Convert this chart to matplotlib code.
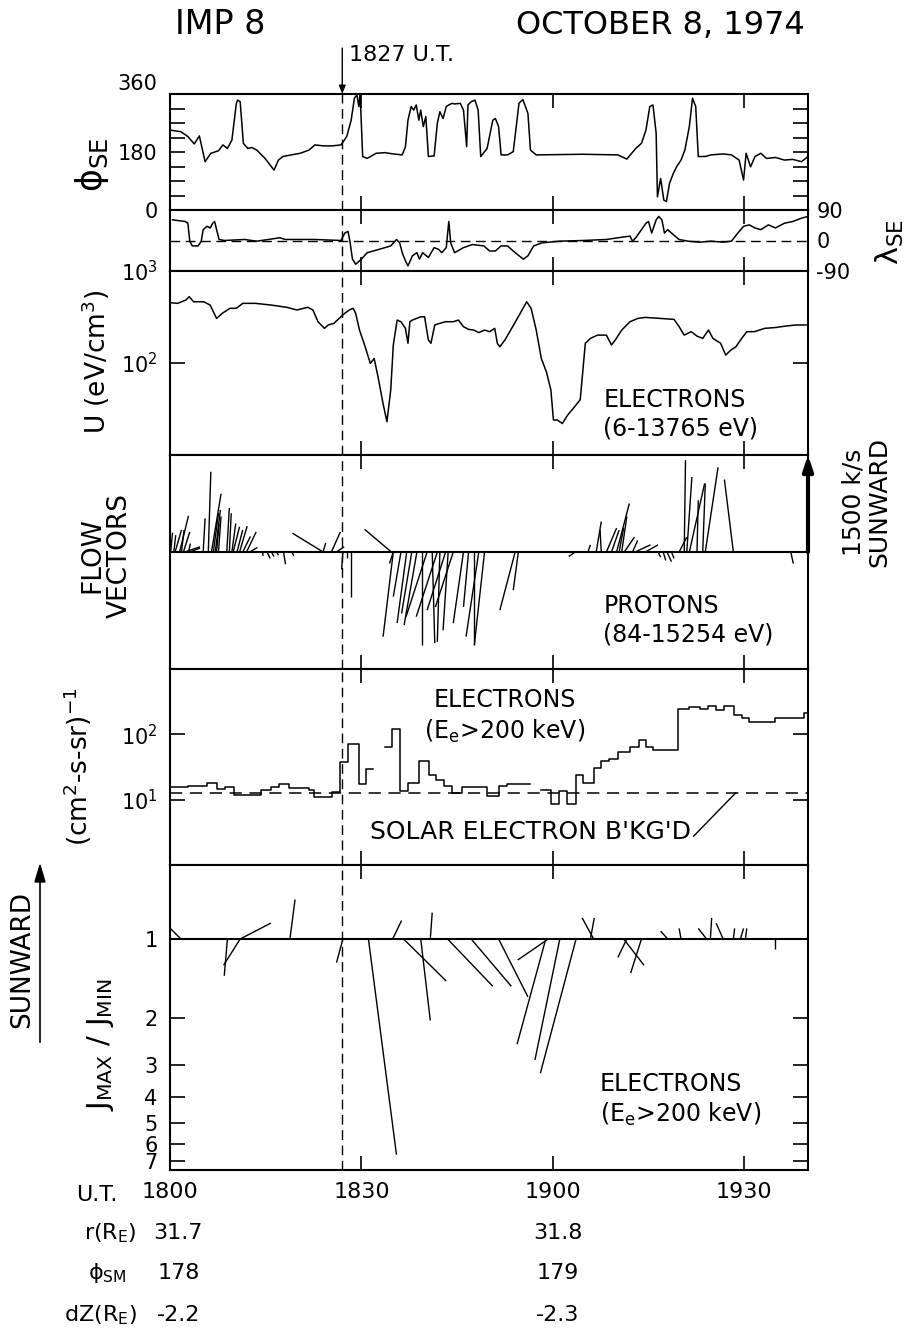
import numpy as np
import matplotlib.pyplot as plt
from matplotlib.collections import LineCollection
from matplotlib.ticker import NullLocator
from matplotlib.transforms import blended_transform_factory

plt.rcParams['font.family'] = ['DejaVu Sans']
plt.rcParams['mathtext.default'] = 'regular'

# time axis: minutes after 1800 UT
# ---- solar-ecliptic azimuth of B (deg)
phi_t = [0, 1.7, 2.8, 3.8, 4.6, 5.5, 6.4, 7.6, 8.3, 9.0, 9.7, 10.4, 10.6, 11.0, 11.5,
         12.2, 12.8, 13.6, 14.9, 16.3, 17.0, 17.7, 19.0, 20.4, 21.8, 22.7, 24.1, 25.4,
         26.8, 27.7, 28.4, 28.9, 29.3, 29.6, 29.8, 30.2, 30.9, 32.3, 33.7, 35.0, 36.4,
         36.9, 37.3, 37.8, 38.2, 38.6, 39.0, 39.3, 39.7, 40.1, 40.5, 41.4, 41.9, 42.3,
         42.8, 43.3, 43.7, 44.2, 44.6, 45.5, 46.0, 46.5, 46.7, 47.2, 47.8, 48.3, 48.7,
         49.7, 50.6, 51.0, 51.5, 51.9, 52.9, 53.8, 54.7, 55.3, 56.1, 56.5, 57.4, 64.7,
         70.2, 71.6, 73.0, 73.9, 74.6, 75.2, 75.7, 76.2, 76.4, 76.9, 77.4, 77.8, 78.3,
         78.9, 79.4, 80.1, 80.7, 81.4, 81.9, 82.4, 82.8, 83.9, 84.8, 86.7, 88.0, 89.2,
         89.9, 90.3, 91.0, 91.7, 92.6, 93.5, 94.9, 96.3, 97.6, 99.0, 100]
phi_deg = [248, 243, 228, 205, 230, 150, 176, 184, 202, 191, 217, 331, 341, 336, 207,
           191, 194, 186, 160, 124, 155, 166, 171, 176, 186, 202, 199, 199,
           202, 228, 279, 347, 357, 321, 362, 166, 160, 176, 178, 174, 171,
           196, 279, 321, 310, 326, 279, 310, 259, 290, 166, 168, 269, 305,
           284, 321, 326, 331, 329, 331, 310, 197, 326, 336, 341, 310, 166,
           191, 279, 284, 259, 171, 171, 181, 331, 343, 300, 186, 171, 173,
           171, 158, 191, 207, 248, 321, 326, 238, 41, 98, 31, 26, 83,
           114, 134, 155, 186, 259, 347, 321, 166, 166, 171, 174, 171, 155,
           93, 176, 134, 166, 176, 160, 163, 155, 157, 150, 166]

# ---- solar-ecliptic latitude of B (deg)
lam_t = [0.4, 1.2, 2.4, 2.8, 3.1, 3.5, 4.4, 4.9, 5.2, 5.8, 6.3, 6.7, 7.0, 7.3, 7.7,
         8.5, 11.7, 13.6, 15.4, 17.2, 18.1, 22.7, 26.8, 27.4, 27.9, 28.2, 28.6, 29.1,
         30.0, 30.9, 32.8, 34.6, 35.5, 36.0, 36.4, 36.9, 37.3, 38.0, 38.7, 39.1, 39.6,
         40.5, 41.4, 42.1, 42.6, 43.3, 43.7, 44.0, 44.6, 46.0, 47.4, 49.2, 50.1, 51.0,
         51.9, 52.9, 53.8, 54.7, 55.4, 56.1, 57.0, 58.3, 61.1, 64.7, 68.4, 70.2, 72.1,
         72.5, 73.0, 73.9, 74.6, 75.0, 75.5, 76.2, 76.6, 77.1, 77.5, 78.0, 78.9, 79.8,
         81.2, 83.0, 84.8, 86.7, 88.0, 89.0, 89.9, 90.8, 91.7, 92.6, 93.8, 94.9, 96.3,
         97.6, 99.0, 100]
lam_deg = [61, 59, 56, 51, -2, -16, -16, -2, 32, 42, 37, 51, 56, 32, 3,
           0, 3, -2, 3, 8, 3, 3, 0, 22, 27, -2, -55, -70,
           -55, -36, -26, -16, 3, -7, -36, -60, -75, -45, -36, -55, -36,
           -50, -21, -26, -36, -21, 56, -7, -36, -21, -12, -16, -31, -31,
           -16, -16, -31, -45, -55, -45, -16, -7, -2, 0, 3, 8, 13,
           -2, 8, 32, 51, 56, 22, 61, 71, 61, 22, 32, 17, 3,
           -2, -5, -2, -5, -2, 22, 42, 46, 37, 32, 46, 37, 51,
           56, 66, 71]

# ---- electron energy density U (eV/cm^3), 6-13765 eV
u_t = [0.0, 1.2, 2.5, 3.0, 3.7, 5.3, 6.3, 7.3, 8.2, 9.4, 10.4, 11.4, 13.4, 15.9, 18.3,
       19.9, 21.6, 22.4, 23.2, 24.2, 24.8, 25.7, 26.5, 27.4, 28.1, 28.7, 29.1, 29.7,
       30.5, 31.4, 32.0, 32.6, 33.4, 34.0, 34.6, 35.0, 35.6, 36.2, 36.9, 37.3, 37.6,
       38.0, 39.3, 39.9, 40.5, 40.9, 41.5, 42.3, 43.2, 44.4, 45.2, 46.0, 46.8, 47.6,
       48.4, 49.3, 50.1, 50.9, 51.3, 51.7, 52.5, 53.7, 54.9, 55.9, 56.6, 57.4, 58.2,
       59.0, 59.7, 60.1, 60.7, 61.5, 62.3, 63.5, 64.3, 65.1, 65.9, 67.0, 67.6, 68.4,
       69.2, 69.8, 70.8, 72.1, 73.3, 74.5, 76.9, 79.0, 79.8, 80.6, 81.7, 82.6, 83.5,
       84.4, 85.1, 86.3, 87.1, 87.9, 88.7, 89.6, 90.4, 91.6, 93.2, 94.9, 96.5, 98.1,
       99.7]
u_val = [453, 445, 484, 526, 463, 463, 426, 305, 347, 393, 393, 445, 445, 426, 403,
         377, 403, 377, 281, 238, 259, 270, 305, 347, 377, 393, 347, 228,
         157, 99, 112, 71, 36, 23, 51, 157, 293, 281, 238, 164, 281,
         293, 318, 318, 178, 164, 259, 270, 281, 281, 293, 248, 232, 228,
         214, 228, 219, 238, 164, 150, 178, 248, 347, 463, 393, 228, 112,
         80, 51, 24, 24, 22, 27, 34, 40, 164, 185, 201, 201, 201,
         157, 178, 228, 281, 305, 313, 305, 298, 248, 201, 219, 196, 185,
         228, 185, 164, 122, 138, 150, 185, 219, 219, 238, 243, 252, 259,
         259]

# ---- proton flow vectors: start time, horizontal extent (min), sunward speed (km/s)
flow_t0 = [0.0, 0.1, 0.6, 0.8, 1.5, 1.8, 2.1, 2.3, 2.9, 3.1, 5.2, 6.0, 6.5, 6.8, 7.1,
           7.3, 7.6, 8.9, 9.3, 9.7, 9.9, 10.5, 10.9, 11.4, 12.0, 12.5,
           14.5, 15.2, 15.9, 16.7, 17.8, 19.1,
           24.0, 24.0, 25.3, 26.1, 27.1, 27.7, 28.4, 34.7, 35.0,
           35.0, 36.2, 37.1, 37.9, 38.7, 39.5, 40.3, 41.1, 41.9, 42.3, 43.2, 43.6,
           44.4, 46.0, 46.8, 47.6, 48.4, 49.3, 54.1, 54.6, 63.5,
           65.5, 66.8, 67.6, 68.4, 69.2, 70.0, 70.4, 70.8, 71.2, 72.5, 72.9, 74.5,
           76.5, 77.3, 77.9, 78.6,
           79.8, 80.6, 81.0, 81.4, 82.6, 83.5, 83.9, 88.3, 97.3]
flow_dt = [-1.8, 0.3, 0.3, 1.0, 1.4, 0.4, 1.0, 2.4, 0.3, 1.6, 0.3, 0.4, 1.5, 0.8, 0.8,
           0.4, 0.4, 0.4, 0.3, 0.6, 1.0, 0.9, 1.2, 1.2, 1.5, 1.2,
           0.1, 0.5, 0.4, 0.3, 0.3, 0.3,
           -4.8, 0.4, 1.4, 1.2, -0.2, 0.0, 0.0, -4.2, -0.6,
           -1.6, -1.2, -1.5, -1.6, -2.0, 0.0, -3.3, 0.4, -3.3, -0.4, -2.9, -0.8,
           -2.8, -1.6, -0.8, 0.0, -2.0, -1.6, -2.4, -0.8, -1.0,
           0.4, 0.8, -0.2, 1.6, 1.2, 2.0, 0.7, 0.8, 1.6, 0.8, 2.4, 2.0,
           0.4, 0.4, 0.7, 0.4,
           1.2, 0.2, 0.8, 2.4, 0.2, 0.4, 2.0, -1.4, 0.4]
flow_v = [110, 300, 260, 340, 560, 340, 310, 80, 130, 60, 520, 1240, 900, 600, 650,
          440, 550, 680, 600, 440, 390, 340, 400, 240, 310, 70,
          -60, -100, -70, -50, -190, -60,
          290, 140, 310, 80, -270, -100, -690, 350, -180,
          -1310, -690, -1100, -950, -1130, -1440, -1000, -1410, -1000, -1390, -900, -1210,
          -850, -1100, -850, -1440, -1310, -1440, -900, -590, -70,
          110, 470, 340, 370, 340, 750, 370, 550, 230, 180, 110, 110,
          -80, -130, -150, -100,
          230, 1420, 1160, 1060, 800, 1060, 1310, 1120, -180]
flow_scale = 1500  # km/s reference arrow

# ---- >200 keV electron intensity (cm^2-s-sr)^-1
flux_edges = [0, 2.8, 5.8, 7.35, 8.55, 10.1, 14.3, 15.85, 17.05, 18.6, 21.8, 22.5, 25.45,
              26.65, 27.9, 29.55, 30.75, 31.85, 33.65, 34.75, 36.05, 37.35, 39.0, 40.55,
              41.7, 43.0, 44.2, 45.75, 49.65, 51.5, 52.85, 56.5, 58.15, 59.7, 60.9, 62.2,
              63.65, 64.75, 66.4, 67.5, 68.85, 70.25, 72.05, 73.45, 74.6, 75.7, 79.55,
              81.4, 83.0, 84.4, 85.6, 86.85, 88.35, 89.6, 90.8, 94.9, 99.3, 100]
flux_vals = [15.6, 16.4, 17.8, 14.6, 15.4, 11.9, 13.9, 15.6, 17.6, 15.1, 13.9, 11.0,
             12.9, 37.3, 72.1, 17.6, 29.5, np.nan, 64.1, 121, 13.7, 18.0, 39.5, 24.2,
             19.8, 16.4, 12.7, 15.4, 11.2, 16.4, 17.6, np.nan, 13.9, 8.7, 13.4, 8.7,
             24.2, 18.0, 30.5, 38.7, 42.5, 53.1, 64.1, 81.1, 64.1, 58.3, 245,
             263, 245, 269, 233, 269, 200, 178, 153, 178, 212]
bkg_level = 12.8

# ---- >200 keV electron anisotropy vectors: start time, horizontal extent,
#      signed log10(Jmax/Jmin) (negative = sunward)
ani_t0 = [1.7, 11.0, 9.0, 11.0, 18.8, 27.1, 31.1, 34.9, 36.6, 39.3, 40.8, 43.5, 47.2,
          51.5, 58.9, 59.3, 61.1, 63.65, 66.4, 65.9, 71.6, 71.1, 73.9, 78.0, 80.1,
          84.1, 84.7, 86.7, 88.3, 89.4, 90.2, 94.9]
ani_dt = [-3.7, 4.8, -0.5, -2.6, 0.8, -1.0, 4.4, 1.4, 6.7, 1.5, 0.3, 7.1, 6.3,
          4.6, -4.5, -4.8, -3.9, -5.6, -1.8, 0.6, -1.4, 3.2, -1.7, -1.1, -0.3,
          -1.3, 0.2, -1.1, 0.2, 0.5, 0.2, 0.0]
ani_r = [-0.09, -0.06, 0.14, 0.10, -0.15, 0.09, 0.82, -0.07, 0.16, 0.31, -0.10, 0.18, 0.18,
         0.22, 0.40, 0.08, 0.46, 0.51, -0.08, -0.08, 0.07, 0.10, 0.13, -0.03, -0.04,
         -0.04, -0.08, -0.06, -0.04, -0.04, -0.04, 0.04]
ani_ticks = [1, 2, 3, 4, 5, 6, 7]

ut_ticks = [0, 30, 60, 90]
ut_labels = ['1800', '1830', '1900', '1930']
event_t = 27  # 1827 UT

W, H = 914, 1338
fig = plt.figure(figsize=(W / 100, H / 100), dpi=100)


def fx(p):
    return p / W


def fy(p):
    return 1 - p / H


X0, X1 = 170, 808
DASH = (0, (7, 4))


def panel(top, bot):
    ax = fig.add_axes([fx(X0), fy(bot), (X1 - X0) / W, (bot - top) / H])
    ax.set_xlim(0, 100)
    ax.set_xticks(ut_ticks[1:])
    ax.tick_params(axis='x', direction='in', top=True, bottom=True, length=10,
                   width=1.2, labelbottom=False)
    ax.tick_params(axis='y', which='both', direction='in', left=True, right=True,
                   length=11, width=1.2, labelsize=15, pad=9)
    for s in ax.spines.values():
        s.set_linewidth(1.5)
    ax.axvline(event_t, color='k', lw=1, ls=DASH)
    return ax


def mixed(ax):
    return blended_transform_factory(ax.transData, ax.transAxes)


# phi_SE
ax1 = panel(94, 210)
ax1.plot(phi_t, phi_deg, color='k', lw=1.1)
ax1.set_ylim(0, 360)
ax1.set_yticks([0, 180, 360], ['0', '180', '360'])
ax1.set_yticks(np.arange(45, 360, 45), minor=True)
ax1.get_yticklabels()[-1].set_va('bottom')
ax1.annotate('', xy=(event_t, 360), xytext=(0, 33), textcoords='offset points',
             arrowprops=dict(arrowstyle='-|>,head_length=0.5,head_width=0.2',
                             color='k', lw=1, shrinkA=0, shrinkB=0),
             annotation_clip=False)
ax1.annotate('1827 U.T.', xy=(event_t, 360), xytext=(5, 28), textcoords='offset points',
             ha='left', va='center', size=16)

# lambda_SE
ax2 = panel(210, 271)
ax2.plot(lam_t, lam_deg, color='k', lw=1.1)
ax2.axhline(0, color='k', lw=1, ls=DASH)
ax2.set_ylim(-90, 90)
ax2.set_yticks([-90, 0, 90], ['-90', '0', '90'])
ax2.tick_params(axis='y', labelleft=False, labelright=True, length=0, pad=6)

# U
ax3 = panel(271, 455)
ax3.set_yscale('log')
ax3.plot(u_t, u_val, color='k', lw=1.1)
ax3.set_ylim(10, 1000)
ax3.set_yticks([100, 1000], ['$10^2$', '$10^3$'])
ax3.yaxis.set_minor_locator(NullLocator())
ax3.text(67.9, 0.223, 'ELECTRONS\n(6-13765 eV)', transform=mixed(ax3),
         ha='left', va='center', size=17, linespacing=1.25)

# flow vectors
ax4 = panel(455, 669)
ax4.set_ylim(-1810, 1500)
ax4.set_yticks([])
ax4.axhline(0, color='k', lw=1.5)
segs = [[(t, 0), (t + d, v)] for t, d, v in zip(flow_t0, flow_dt, flow_v)]
ax4.add_collection(LineCollection(segs, colors='k', linewidths=1.0))
ax4.annotate('', xy=(100, flow_scale), xytext=(100, 0),
             arrowprops=dict(arrowstyle='-|>,head_length=0.9,head_width=0.3',
                             color='k', lw=3, shrinkA=0, shrinkB=0),
             annotation_clip=False)
ax4.text(67.9, 0.229, 'PROTONS\n(84-15254 eV)', transform=mixed(ax4),
         ha='left', va='center', size=17, linespacing=1.25)

# >200 keV electron intensity
ax5 = panel(669, 865)
ax5.set_yscale('log')
ax5.step(flux_edges, np.append(flux_vals, flux_vals[-1]), where='post', color='k', lw=1.1)
ax5.axhline(bkg_level, color='k', lw=1.1, ls=(0, (8, 5)))
ax5.set_ylim(1, 1000)
ax5.set_yticks([10, 100], ['$10^1$', '$10^2$'])
ax5.yaxis.set_minor_locator(NullLocator())
ax5.text(52.5, 0.758, 'ELECTRONS\n(E$_e$>200 keV)', transform=mixed(ax5),
         ha='center', va='center', size=17, linespacing=1.25)
ax5.annotate("SOLAR ELECTRON B'KG'D", xy=(88.7, bkg_level), xytext=(31.3, 3.2),
             ha='left', va='center', size=18,
             arrowprops=dict(arrowstyle='-', color='k', lw=1, relpos=(1.0, 0.2),
                             shrinkA=0, shrinkB=0))

# anisotropy
ax6 = panel(865, 1170)
ax6.set_ylim(np.log10(7.55), -0.281)
ax6.set_yticks(np.log10(ani_ticks), [str(k) for k in ani_ticks])
ax6.axhline(0, color='k', lw=1.5)
segs = [[(t, 0), (t + d, r)] for t, d, r in zip(ani_t0, ani_dt, ani_r)]
ax6.add_collection(LineCollection(segs, colors='k', linewidths=1.0))
ax6.set_xticks(ut_ticks, ut_labels)
ax6.tick_params(axis='x', labelbottom=True, labelsize=16, pad=9)
ax6.text(67.4, 0.23, 'ELECTRONS\n(E$_e$>200 keV)', transform=mixed(ax6),
         ha='left', va='center', size=17, linespacing=1.25)

# titles and axis labels
fig.text(fx(220), fy(25), 'IMP 8', ha='center', va='center', size=24)
fig.text(fx(660), fy(25), 'OCTOBER 8, 1974', ha='center', va='center', size=23)
fig.text(fx(92), fy(165), r'$\phi_{SE}$', rotation=90, ha='center', va='center', size=25)
fig.text(fx(890), fy(242), r'$\lambda_{SE}$', rotation=90, ha='center', va='center', size=22)
fig.text(fx(96), fy(362), 'U (eV/cm$^3$)', rotation=90, ha='center', va='center', size=19)
fig.text(fx(106), fy(555), 'FLOW\nVECTORS', rotation=90, ha='center', va='center', size=19,
         multialignment='center', linespacing=1.1)
fig.text(fx(866), fy(502), '1500 k/s\nSUNWARD', rotation=90, ha='center', va='center', size=18,
         multialignment='center', linespacing=1.1)
fig.text(fx(78), fy(767), '(cm$^2$-s-sr)$^{-1}$', rotation=90, ha='center', va='center', size=19)
fig.text(fx(22), fy(960), 'SUNWARD', rotation=90, ha='center', va='center', size=19)
fig.add_artist(plt.Line2D([fx(40), fx(40)], [fy(1042), fy(880)], color='k', lw=1.2))
fig.patches.append(plt.Polygon([[fx(35), fy(882)], [fx(45), fy(882)], [fx(40), fy(865)]],
                               closed=True, color='k', transform=fig.transFigure))
fig.text(fx(100), fy(1045), 'J$_{MAX}$ / J$_{MIN}$', rotation=90, ha='center', va='center', size=21)

# ephemeris rows
tr = blended_transform_factory(ax6.transData, fig.transFigure)
row_names = ['U.T.', 'r(R$_E$)', r'$\phi_{SM}$', 'dZ(R$_E$)']
row_y = [1195, 1233, 1273, 1315]
row_x = [118, 137, 127, 137]
for name, y, x in zip(row_names, row_y, row_x):
    fig.text(fx(x), fy(y), name, ha='right', va='center', size=16)
eph_t = [1.3, 60.8]
eph_r = ['31.7', '31.8']
eph_phi = ['178', '179']
eph_dz = ['-2.2', '-2.3']
for vals, y in zip([eph_r, eph_phi, eph_dz], row_y[1:]):
    for t, s in zip(eph_t, vals):
        ax6.text(t, fy(y), s, transform=tr, ha='center', va='center', size=16)

fig.savefig('out.png', dpi=100)
